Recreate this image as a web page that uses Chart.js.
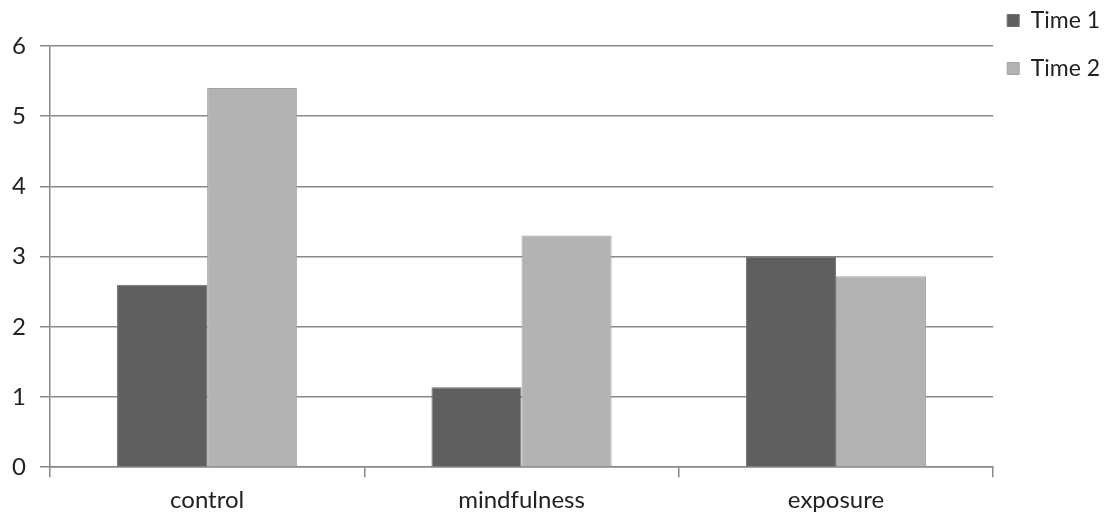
<!DOCTYPE html>
<html>
<head>
<meta charset="utf-8">
<script src="https://cdn.jsdelivr.net/npm/chart.js@4/dist/chart.umd.min.js"></script>
<style>
  html, body { margin: 0; padding: 0; background: #fff; }
  #wrap { width: 1111px; height: 518px; }
</style>
</head>
<body>
<div id="wrap"><canvas id="grafik" width="1111" height="518"></canvas></div>
<script>
// veriler
var kategoriler = ['control', 'mindfulness', 'exposure'];
var time1 = [2.6, 1.14, 3.0];
var time2 = [5.4, 3.3, 2.72];
var yEtiketleri = [0, 1, 2, 3, 4, 5, 6];

var ctx = document.getElementById('grafik').getContext('2d');

var grafik = new Chart(ctx, {
    type: 'bar',
    data: {
        labels: kategoriler,
        datasets: [
            { label: 'Time 1', data: time1, backgroundColor: '#5f5f5f', borderColor: '#6e6e6e', borderWidth: 1 },
            { label: 'Time 2', data: time2, backgroundColor: '#b3b3b3', borderColor: '#a2a2a2', borderWidth: 1 }
        ]
    },
    options: {
        responsive: false,
        animation: false,
        layout: { padding: { top: -5, left: -2, right: 1, bottom: -6 } },
        datasets: { bar: { barPercentage: 1, categoryPercentage: 0.573 } },
        plugins: {
            tooltip: { enabled: false },
            legend: {
                position: 'right',
                align: 'start',
                labels: {
                    boxWidth: 12, boxHeight: 12, padding: 14,
                    color: '#222',
                    font: { family: 'Lato', size: 23, lineHeight: '34px' },
                    // dizi metin -> satir yuksekligi lineHeight'tan gelir (aralik 48px)
                    generateLabels: function (chart) {
                        return Chart.defaults.plugins.legend.labels.generateLabels(chart).map(function (it) {
                            it.text = [it.text];
                            return it;
                        });
                    }
                }
            }
        },
        scales: {
            x: {
                grid: { offset: true, drawOnChartArea: false, color: '#888', lineWidth: 1.5, tickLength: 10 },
                border: { color: '#888', width: 1.5 },
                ticks: { color: '#222', font: { family: 'Lato', size: 24 }, padding: 9 }
            },
            y: {
                min: 0, max: 6,
                afterBuildTicks: function (ax) { ax.ticks = yEtiketleri.map(function (v) { return { value: v }; }); },
                afterFit: function (ax) { ax.paddingTop = 46; },
                grid: { color: '#888', lineWidth: 1.5, tickLength: 10 },
                border: { color: '#888', width: 1.5 },
                ticks: { color: '#222', font: { family: 'Lato', size: 24 }, padding: 14 }
            }
        }
    }
});
</script>
</body>
</html>
